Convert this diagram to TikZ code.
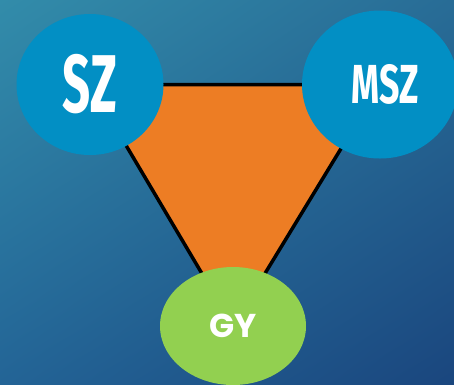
\documentclass[tikz,border=0pt]{standalone}
\usepackage{fontspec}
\usetikzlibrary{shapes.geometric, shadings}
\newfontfamily\firafont{Fira Sans}
\newfontfamily\popfont{Poppins}
\definecolor{bgtl}{RGB}{50,140,170}
\definecolor{bgtr}{RGB}{40,108,150}
\definecolor{bgbl}{RGB}{35,100,150}
\definecolor{bgbr}{RGB}{26,70,126}
\definecolor{szblue}{RGB}{2,143,196}
\definecolor{triorange}{RGB}{237,125,36}
\definecolor{gygreen}{RGB}{146,208,80}
\pgfdeclarelayer{back}
\pgfdeclarelayer{mid}
\pgfsetlayers{back,mid,main}

\begin{document}
\begin{tikzpicture}[x=1pt, y=-1pt,
		blob/.style={ellipse, inner sep=0pt, text=white}]
				\useasboundingbox (0,0) rectangle (454,384);
				\node[blob, fill=szblue, minimum width=147pt, minimum height=141pt] (SZ)at(90, 84.5) {\raisebox{1.5pt}{\firafont\bfseries\fontsize{82}{82}\selectfont\scalebox{0.6}[1]{SZ}}};
				\node[blob, fill=szblue, minimum width=156pt, minimum height=148pt] (MSZ)at(380, 84.5) {\hspace*{10pt}\firafont\bfseries\fontsize{55}{55}\selectfont\scalebox{0.65}[1]{MSZ}};
				\node[blob, fill=gygreen, minimum width=146pt, minimum height=118pt] (GY)at(233, 326) {\popfont\bfseries\fontsize{33}{33}\selectfont GY};
				\begin{pgfonlayer}{mid}
				\filldraw[fill=triorange, line width=3.5pt, line join=miter] (SZ.center) -- (MSZ.center) -- (GY.center) -- cycle;
				\end{pgfonlayer}
				\begin{pgfonlayer}{back}
				\shade[upper left=bgtl, upper right=bgtr, lower left=bgbl, lower right=bgbr] (0,0) rectangle (454,384);
				\end{pgfonlayer}
			\end{tikzpicture}
\end{document}
